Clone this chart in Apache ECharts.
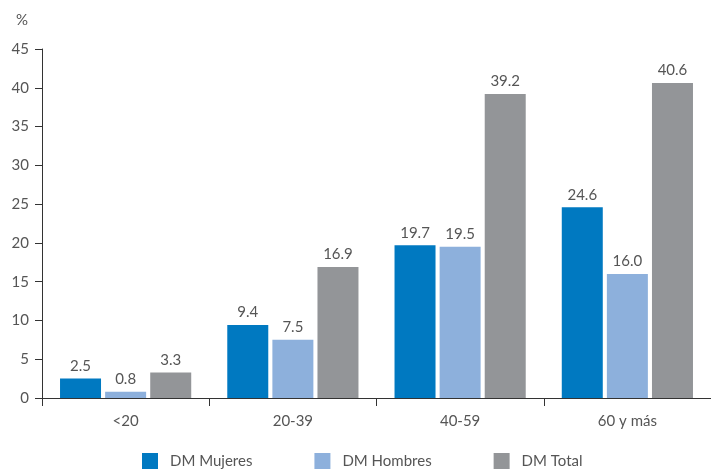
<!DOCTYPE html>
<html><head><meta charset="utf-8">
<script src="https://cdn.jsdelivr.net/npm/echarts@6/dist/echarts.min.js"></script>
<style>html,body{margin:0;padding:0;background:#fff}#c{width:711px;height:470px}</style>
</head><body><div id="c"></div>
<script>
var categories = ['<20', '20-39', '40-59', '60 y más'];
var mujeres = [2.5, 9.4, 19.7, 24.6];
var hombres = [0.8, 7.5, 19.5, 16.0];
var total = [3.3, 16.9, 39.2, 40.6];
var seriesNames = ['DM Mujeres', 'DM Hombres', 'DM Total'];
var colors = ['#0079c1', '#8db0dc', '#939598'];
var font = 'Lato';
var txt = '#555';
function mk(name, data, color) {
  return {
    name: name, type: 'bar', data: data, barWidth: 41, barGap: '10%',
    itemStyle: { color: color },
    label: { show: true, position: 'top', distance: 5, color: txt, fontFamily: font, fontSize: 15,
      formatter: function (p) { return p.value.toFixed(1); } }
  };
}
var chart = echarts.init(document.getElementById('c'));
chart.setOption({
  animation: false,
  color: colors,
  grid: { left: 42, right: 0, top: 49, bottom: 72, containLabel: false },
  legend: {
    top: 453, left: 142, padding: 0, itemWidth: 16, itemHeight: 16, itemGap: 62,
    icon: 'rect', textStyle: { color: txt, fontFamily: font, fontSize: 15, padding: [0, 0, 0, 7] },
    data: seriesNames
  },
  title: { text: '%', left: 11, top: 8, textStyle: { color: txt, fontFamily: font, fontSize: 15, fontWeight: 'normal' } },
  xAxis: {
    type: 'category', data: categories,
    axisLine: { lineStyle: { color: '#333', width: 1 } },
    axisTick: { show: true, length: 8, lineStyle: { color: '#333' } },
    axisLabel: { color: txt, fontFamily: font, fontSize: 15, margin: 16 }
  },
  yAxis: {
    type: 'value', min: 0, max: 45, interval: 5,
    axisLine: { show: true, lineStyle: { color: '#333', width: 1 } },
    axisTick: { show: true, length: 7, lineStyle: { color: '#333' } },
    axisLabel: { color: txt, fontFamily: font, fontSize: 15, margin: 13 },
    splitLine: { show: false }
  },
  series: [mk(seriesNames[0], mujeres, colors[0]), mk(seriesNames[1], hombres, colors[1]), mk(seriesNames[2], total, colors[2])]
});
</script></body></html>
